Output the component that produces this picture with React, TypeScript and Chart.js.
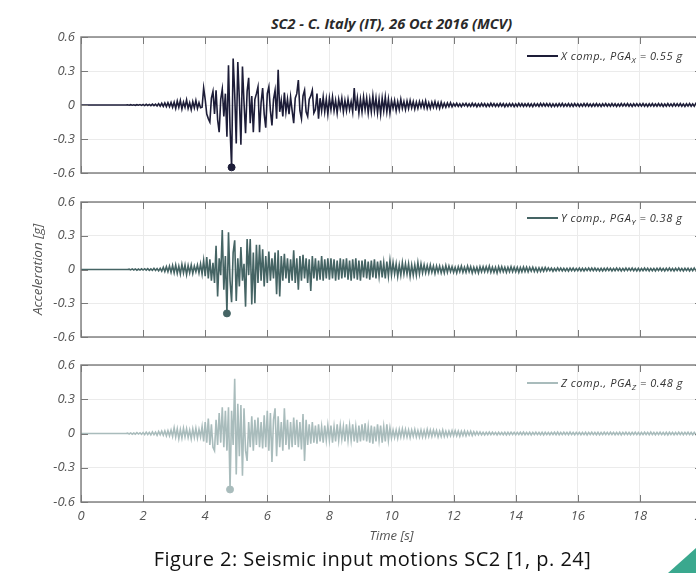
import React, { useEffect, useRef } from "react";
import { Chart, registerables } from "chart.js";
Chart.register(...registerables);

// ---------- data ----------
const DT = 0.05; // sampling step of the records [s]
const X_TICKS = [0, 2, 4, 6, 8, 10, 12, 14, 16, 18, 20];
const X_TICK_LABELS = ["0", "2", "4", "6", "8", "10", "12", "14", "16", "18", "20"];
const Y_TICKS = [-0.6, -0.3, 0, 0.3, 0.6];
const Y_TICK_LABELS = ["-0.6", "-0.3", "0", "0.3", "0.6"];

const ACC_X = [
  0,0,0,0,0,0,0,0,0,0,0,0,0,0,0,0,0,0,0,0,
  0,0,0,0,0,0,0,0,0,0,0.002,-0.002,0.003,-0.002,0.002,-0.003,0.003,-0.002,0.004,-0.003,
  0.004,-0.005,0.006,-0.004,0.005,-0.006,0.008,-0.006,0.007,-0.009,0.012,-0.01,0.015,-0.012,0.018,-0.014,0.02,-0.016,0.022,-0.02,
  0.025,-0.03,0.035,-0.02,0.04,-0.035,0.025,-0.02,0.045,-0.03,0.02,-0.04,0.03,-0.025,0.04,-0.03,0.02,-0.025,-0.02,0.15,
  0.05,-0.08,-0.12,-0.15,0.06,0.12,-0.08,0.13,-0.13,-0.24,0.05,0.14,-0.1,0.1,-0.28,0.35,-0.2,-0.55,0.41,0.1,
  -0.34,0.38,0.05,-0.35,0.34,0.02,-0.25,0.12,0.24,-0.16,0.08,-0.24,0.05,0.1,0.16,-0.24,0.02,0.15,-0.08,-0.2,
  0.1,0.16,-0.05,-0.18,0.05,0.13,-0.12,0.31,-0.06,0.04,-0.1,0.11,-0.06,0.05,-0.08,0.07,-0.05,-0.16,0.06,0.1,
  0.22,-0.05,-0.12,0.08,0.13,-0.06,-0.1,0.05,0.08,0.13,-0.07,-0.04,0.1,-0.12,0.06,-0.05,0.07,-0.06,0.05,-0.08,
  0.06,-0.04,0.07,-0.05,0.04,-0.07,0.05,-0.03,0.06,-0.06,0.04,-0.05,0.05,-0.04,0.03,-0.06,0.15,-0.05,0.06,-0.07,
  0.05,-0.06,0.07,-0.04,0.06,-0.07,0.05,-0.06,0.08,-0.05,0.06,-0.07,0.05,-0.08,0.06,-0.05,0.07,-0.06,0.05,-0.07,
  0.04,-0.03,0.04,-0.05,0.03,-0.04,0.05,-0.03,0.03,-0.04,0.035,-0.03,0.04,-0.025,0.03,-0.035,0.025,-0.03,0.03,-0.02,
  0.03,-0.025,0.035,-0.03,0.02,-0.03,0.025,-0.02,0.03,-0.025,0.02,-0.03,0.025,-0.02,0.015,-0.02,0.018,-0.015,0.02,-0.015,
  0.012,-0.01,0.015,-0.012,0.01,-0.014,0.012,-0.008,0.014,-0.012,0.01,-0.012,0.015,-0.01,0.012,-0.015,0.01,-0.012,0.014,-0.01,
  0.012,-0.014,0.01,-0.012,0.015,-0.01,0.012,-0.013,0.01,-0.012,0.014,-0.01,0.012,-0.015,0.01,-0.012,0.013,-0.01,0.012,-0.014,
  0.01,-0.012,0.014,-0.01,0.012,-0.013,0.011,-0.01,0.013,-0.012,0.01,-0.014,0.012,-0.01,0.011,-0.012,0.014,-0.01,0.012,-0.011,
  0.013,-0.01,0.012,-0.014,0.01,-0.012,0.011,-0.013,0.012,-0.01,0.014,-0.012,0.01,-0.011,0.013,-0.012,0.01,-0.013,0.012,-0.01,
  0.011,-0.012,0.01,-0.011,0.013,-0.01,0.012,-0.011,0.01,-0.012,0.011,-0.01,0.013,-0.011,0.01,-0.012,0.011,-0.01,0.012,-0.011,
  0.01,-0.011,0.012,-0.01,0.011,-0.012,0.01,-0.011,0.012,-0.01,0.011,-0.01,0.012,-0.011,0.01,-0.012,0.011,-0.01,0.012,-0.01,
  0.011,-0.01,0.012,-0.011,0.01,-0.012,0.011,-0.01,0.012,-0.011,0.01,-0.011,0.012,-0.01,0.011,-0.012,0.01,-0.011,0.012,-0.01,
  0.01,-0.011,0.012,-0.01,0.011,-0.01,0.012,-0.011,0.01,-0.012,0.011,-0.01,0.012,-0.011,0.01,-0.011,0.012,-0.01,0.011,-0.01,
  0.005,
];

const ACC_Y = [
  0,0,0,0,0,0,0,0,0,0,0,0,0,0,0,0,0,0,0,0,
  0,0,0,0,0,0,0,0,0,0,0,0.003,-0.004,0.005,-0.004,0.005,-0.006,0.004,-0.005,0.006,
  -0.005,0.007,-0.006,0.008,-0.007,0.006,-0.008,0.01,-0.008,0.009,-0.012,0.01,-0.015,0.02,-0.018,0.025,-0.02,0.03,-0.025,0.035,
  -0.03,0.04,-0.035,0.03,-0.04,0.045,-0.03,0.04,-0.045,0.035,-0.03,0.04,-0.035,0.03,-0.02,0.04,-0.03,0.05,-0.04,0.08,
  -0.06,0.11,-0.08,0.09,-0.1,0.06,-0.12,0.21,-0.24,0.1,-0.05,0.35,-0.18,0.12,-0.39,0.33,-0.1,-0.29,0.15,0.26,
  -0.28,0.1,-0.15,0.2,-0.1,0.05,-0.33,0.27,-0.05,0.27,-0.31,0.15,-0.3,0.22,-0.12,0.22,-0.1,0.18,-0.15,0.12,
  -0.12,0.16,-0.1,0.1,-0.08,0.15,-0.22,0.17,-0.24,0.12,-0.1,0.14,-0.08,0.1,-0.12,0.09,-0.1,0.17,-0.12,0.1,
  -0.18,0.12,-0.1,0.13,-0.08,0.1,-0.12,0.09,-0.19,0.12,-0.08,0.1,-0.1,0.08,-0.09,0.12,-0.1,0.09,-0.08,0.1,
  -0.09,0.1,-0.08,0.09,-0.1,0.08,-0.09,0.1,-0.08,0.09,-0.07,0.1,-0.09,0.08,-0.1,0.09,-0.08,0.1,-0.09,0.08,
  -0.1,0.08,-0.07,0.09,-0.08,0.07,-0.09,0.08,-0.07,0.09,-0.08,0.07,-0.06,0.08,-0.07,0.06,-0.08,0.07,-0.06,0.08,
  -0.05,0.06,-0.04,0.05,-0.06,0.04,-0.05,0.06,-0.04,0.05,-0.04,0.05,-0.06,0.04,-0.05,0.04,-0.05,0.06,-0.04,0.05,
  -0.03,0.04,-0.03,0.035,-0.03,0.04,-0.025,0.03,-0.035,0.03,-0.025,0.03,-0.03,0.025,-0.03,0.035,-0.025,0.03,-0.02,0.025,
  -0.025,0.02,-0.03,0.025,-0.02,0.03,-0.025,0.02,-0.025,0.03,-0.02,0.025,-0.03,0.02,-0.025,0.02,-0.03,0.025,-0.02,0.025,
  -0.02,0.025,-0.02,0.03,-0.025,0.02,-0.025,0.02,-0.03,0.025,-0.02,0.025,-0.02,0.02,-0.025,0.02,-0.02,0.025,-0.02,0.02,
  -0.02,0.02,-0.025,0.018,-0.02,0.022,-0.018,0.02,-0.02,0.018,-0.015,0.02,-0.018,0.015,-0.02,0.015,-0.018,0.015,-0.015,0.018,
  -0.012,0.014,-0.01,0.012,-0.015,0.01,-0.012,0.014,-0.011,0.012,-0.013,0.01,-0.012,0.011,-0.014,0.012,-0.01,0.013,-0.012,0.01,
  -0.011,0.012,-0.013,0.01,-0.012,0.011,-0.01,0.012,-0.011,0.013,-0.01,0.012,-0.011,0.01,-0.012,0.011,-0.013,0.01,-0.011,0.012,
  -0.01,0.011,-0.012,0.01,-0.011,0.012,-0.01,0.011,-0.012,0.01,-0.011,0.012,-0.01,0.011,-0.01,0.012,-0.011,0.01,-0.012,0.011,
  -0.012,0.01,-0.011,0.012,-0.01,0.011,-0.012,0.01,-0.011,0.01,-0.012,0.011,-0.01,0.012,-0.011,0.01,-0.012,0.011,-0.01,0.012,
  -0.011,0.01,-0.012,0.011,-0.01,0.012,-0.011,0.01,-0.012,0.011,-0.01,0.011,-0.012,0.01,-0.011,0.012,-0.01,0.011,-0.012,0.01,
  -0.005,
];

const ACC_Z = [
  0,0,0,0,0,0,0,0,0,0,0,0,0,0,0,0,0,0,0,0,
  0,0,0,0,0,0,0,0,0,0,0.003,-0.004,0.005,-0.006,0.004,-0.006,0.007,-0.005,0.006,-0.008,
  0.008,-0.01,0.012,-0.009,0.01,-0.012,0.014,-0.01,0.012,-0.015,0.018,-0.012,0.02,-0.015,0.022,-0.02,0.025,-0.02,0.03,-0.025,
  0.05,-0.03,0.04,-0.045,0.035,-0.04,0.045,-0.03,0.04,-0.035,0.03,-0.045,0.04,-0.035,0.045,-0.04,0.035,-0.03,0.06,-0.07,
  0.1,-0.08,0.13,-0.1,0.08,-0.12,-0.15,0.12,-0.1,0.18,-0.08,0.23,-0.12,0.2,-0.15,0.23,-0.49,0.2,-0.1,0.48,
  -0.36,0.26,-0.2,0.25,-0.37,0.22,-0.15,-0.24,0.1,-0.12,0.15,-0.15,0.12,-0.1,0.14,-0.12,0.1,-0.13,0.16,-0.12,
  0.2,-0.15,0.18,-0.25,0.12,0.22,-0.2,0.15,-0.12,0.1,-0.15,0.22,-0.1,0.12,-0.14,0.1,-0.12,0.14,-0.1,0.12,
  -0.12,0.1,-0.14,0.17,-0.24,0.12,-0.1,0.08,-0.09,0.1,-0.08,0.07,-0.09,0.08,-0.07,0.06,-0.08,0.07,-0.06,0.07,
  -0.06,0.07,-0.08,0.06,-0.07,0.08,-0.06,0.07,-0.05,0.06,-0.07,0.08,-0.06,0.07,-0.06,0.08,-0.07,0.06,-0.08,0.07,
  -0.07,0.08,-0.06,0.09,-0.07,0.06,-0.08,0.07,-0.09,0.06,-0.07,0.08,-0.06,0.07,-0.08,0.06,-0.07,0.08,-0.06,0.05,
  -0.04,0.03,-0.035,0.03,-0.04,0.035,-0.03,0.04,-0.03,0.035,-0.03,0.03,-0.035,0.03,-0.025,0.035,-0.03,0.025,-0.03,0.03,
  -0.03,0.025,-0.03,0.035,-0.025,0.03,-0.025,0.03,-0.02,0.025,-0.03,0.02,-0.025,0.03,-0.025,0.02,-0.025,0.02,-0.02,0.025,
  -0.02,0.025,-0.02,0.02,-0.025,0.02,-0.018,0.022,-0.02,0.018,-0.015,0.02,-0.018,0.015,-0.012,0.015,-0.012,0.014,-0.012,0.01,
  -0.012,0.01,-0.011,0.012,-0.01,0.011,-0.009,0.01,-0.012,0.011,-0.01,0.009,-0.011,0.01,-0.012,0.011,-0.01,0.012,-0.009,0.01,
  -0.011,0.01,-0.009,0.011,-0.01,0.012,-0.011,0.009,-0.01,0.011,-0.012,0.01,-0.009,0.011,-0.01,0.009,-0.011,0.01,-0.012,0.011,
  -0.01,0.009,-0.011,0.01,-0.009,0.011,-0.01,0.012,-0.011,0.009,-0.01,0.011,-0.009,0.01,-0.011,0.012,-0.01,0.009,-0.011,0.01,
  -0.009,0.01,-0.011,0.009,-0.01,0.011,-0.012,0.01,-0.009,0.011,-0.01,0.009,-0.011,0.01,-0.012,0.009,-0.01,0.011,-0.009,0.01,
  -0.01,0.011,-0.009,0.01,-0.011,0.009,-0.01,0.011,-0.012,0.01,-0.009,0.011,-0.01,0.009,-0.011,0.01,-0.009,0.011,-0.01,0.009,
  -0.011,0.009,-0.01,0.011,-0.009,0.01,-0.011,0.012,-0.01,0.009,-0.011,0.01,-0.009,0.011,-0.01,0.009,-0.011,0.01,-0.012,0.011,
  -0.009,0.01,-0.011,0.009,-0.01,0.011,-0.009,0.01,-0.011,0.01,-0.009,0.011,-0.01,0.009,-0.011,0.01,-0.009,0.011,-0.01,0.009,
  0,
];

const COMPONENTS = ["X", "Y", "Z"];
const PGA_LABELS = ["0.55", "0.38", "0.48"];
const PEAK_TIMES = [4.85, 4.7, 4.8];
const PEAK_VALUES = [-0.55, -0.39, -0.49];

const TITLE = "SC2 - C. Italy (IT), 26 Oct 2016 (MCV)";
const X_TITLE = "Time [s]";
const Y_TITLE = "Acceleration [g]";
const CAPTION = "Figure 2: Seismic input motions SC2 [1, p. 24]";

// ---------- styling ----------
const COLORS = ["#1d1d38", "#456464", "#a9bcbc"];
const FONT = "'Open Sans', Lato, 'DejaVu Sans', sans-serif";
const LABEL_COLOR = "#555555";
const CANVAS_W = 720;
const PANEL_TOPS = [29, 194, 357];
const PANEL_HEIGHTS = [152, 151, 190];
const LEGEND_Y = [56, 218, 383];

const framePlugin = {
  id: "frame",
  afterDraw(chart: any) {
    const { ctx, chartArea: a, scales } = chart;
    const L = 7;
    ctx.save();
    ctx.strokeStyle = "#7a7a7a";
    ctx.lineWidth = 1;
    ctx.beginPath();
    scales.x.ticks.forEach((t: any) => {
      const px = Math.round(scales.x.getPixelForValue(t.value)) + 0.5;
      ctx.moveTo(px, a.bottom);
      ctx.lineTo(px, a.bottom - L);
      ctx.moveTo(px, a.top);
      ctx.lineTo(px, a.top + L);
    });
    scales.y.ticks.forEach((t: any) => {
      const py = Math.round(scales.y.getPixelForValue(t.value)) + 0.5;
      ctx.moveTo(a.left, py);
      ctx.lineTo(a.left + L, py);
      ctx.moveTo(a.right, py);
      ctx.lineTo(a.right - L, py);
    });
    ctx.stroke();
    ctx.lineWidth = 1.4;
    ctx.strokeRect(a.left, a.top, a.right - a.left, a.bottom - a.top);
    ctx.restore();
  },
};

function Panel({ index }: { index: number }) {
  const ref = useRef<HTMLCanvasElement | null>(null);
  const values = [ACC_X, ACC_Y, ACC_Z][index];
  const color = COLORS[index];
  const showX = index === 2;
  const showYTitle = index === 1;

  useEffect(() => {
    if (!ref.current) return;
    const time = values.map((_, i) => i * DT);
    const tickFont = { family: FONT, style: "italic" as const, size: 13 };
    const chart = new Chart(ref.current, {
      type: "line",
      data: {
        datasets: [
          {
            type: "scatter",
            data: [{ x: PEAK_TIMES[index], y: PEAK_VALUES[index] }],
            pointRadius: 3.5,
            backgroundColor: color,
            borderColor: color,
          } as any,
          {
            type: "line",
            data: values.map((v, i) => ({ x: time[i], y: v })),
            borderColor: color,
            borderWidth: 1.6,
            pointRadius: 0,
            tension: 0,
            fill: false,
          },
        ],
      },
      options: {
        responsive: false,
        animation: false,
        events: [],
        layout: { autoPadding: false, padding: { left: 8, right: 18, top: 8, bottom: showX ? 0 : 8 } },
        plugins: { legend: { display: false }, tooltip: { enabled: false }, title: { display: false } },
        scales: {
          x: {
            type: "linear",
            min: 0,
            max: 20,
            afterBuildTicks: (s: any) => {
              s.ticks = X_TICKS.map((v) => ({ value: v }));
            },
            afterFit: (s: any) => {
              s.height = showX ? 45 : 0;
            },
            ticks: {
              display: showX,
              autoSkip: false,
              maxRotation: 0,
              padding: 6,
              color: LABEL_COLOR,
              font: tickFont,
              callback: (v: any) => X_TICK_LABELS[X_TICKS.indexOf(Number(v))],
            },
            grid: { color: "#ebebeb", drawTicks: false, lineWidth: 1 },
            border: { display: false },
            title: {
              display: showX,
              text: X_TITLE,
              color: LABEL_COLOR,
              font: { family: FONT, style: "italic", size: 13 },
              padding: { top: 0, bottom: 3 },
            },
          },
          y: {
            type: "linear",
            min: -0.6,
            max: 0.6,
            afterBuildTicks: (s: any) => {
              s.ticks = Y_TICKS.map((v) => ({ value: v }));
            },
            afterFit: (s: any) => {
              s.width = 73;
              s.paddingTop = 0;
              s.paddingBottom = 0;
            },
            ticks: {
              padding: 6,
              color: LABEL_COLOR,
              font: tickFont,
              callback: (v: any) => Y_TICK_LABELS[Y_TICKS.indexOf(Number(v))],
            },
            grid: { color: "#ebebeb", drawTicks: false, lineWidth: 1 },
            border: { display: false },
            title: {
              display: showYTitle,
              text: Y_TITLE,
              color: LABEL_COLOR,
              font: { family: FONT, style: "italic", size: 13.5 },
              padding: { top: 22, bottom: 0 },
            },
          },
        },
      },
      plugins: [framePlugin],
    });
    return () => chart.destroy();
  }, []);

  return (
    <canvas
      ref={ref}
      width={CANVAS_W}
      height={PANEL_HEIGHTS[index]}
      style={{ position: "absolute", left: 0, top: PANEL_TOPS[index], width: CANVAS_W, height: PANEL_HEIGHTS[index] }}
    />
  );
}

function Legend({ index }: { index: number }) {
  const y = LEGEND_Y[index];
  const c = COMPONENTS[index];
  return (
    <>
      <div style={{ position: "absolute", left: 527, top: y - 0.75, width: 31, height: 1.5, background: COLORS[index] }} />
      <div
        style={{
          position: "absolute",
          left: 561,
          top: y - 6.5,
          font: `italic 11px ${FONT}`,
          lineHeight: "12px",
          letterSpacing: "0.55px",
          color: "#333",
          whiteSpace: "nowrap",
        }}
      >
        {c} comp., PGA
        <sub style={{ fontSize: "8px", verticalAlign: "-3px", lineHeight: 0 }}>{c}</sub> = {PGA_LABELS[index]} g
      </div>
    </>
  );
}

export default function App() {
  return (
    <div
      style={{
        position: "absolute",
        left: 0,
        top: 0,
        width: 696,
        height: 573,
        overflow: "hidden",
        background: "#ffffff",
      }}
    >
      <div
        style={{
          position: "absolute",
          left: 81,
          top: 15,
          width: 621,
          textAlign: "center",
          font: `italic bold 14.5px ${FONT}`,
          lineHeight: "18px",
          color: "#2a2a2a",
          whiteSpace: "nowrap",
        }}
      >
        {TITLE}
      </div>
      {[0, 1, 2].map((i) => (
        <Panel key={"p" + i} index={i} />
      ))}
      {[0, 1, 2].map((i) => (
        <Legend key={"l" + i} index={i} />
      ))}
      <div
        style={{
          position: "absolute",
          left: 0,
          top: 547,
          width: 745,
          textAlign: "center",
          font: `20px ${FONT}`,
          lineHeight: "24px",
          letterSpacing: "0.45px",
          color: "#111",
          whiteSpace: "nowrap",
        }}
      >
        {CAPTION}
      </div>
      <div
        style={{
          position: "absolute",
          left: 668,
          top: 548,
          width: 28,
          height: 25,
          background: "#3aa88e",
          clipPath: "polygon(0% 100%, 100% 0%, 100% 100%)",
        }}
      />
    </div>
  );
}
